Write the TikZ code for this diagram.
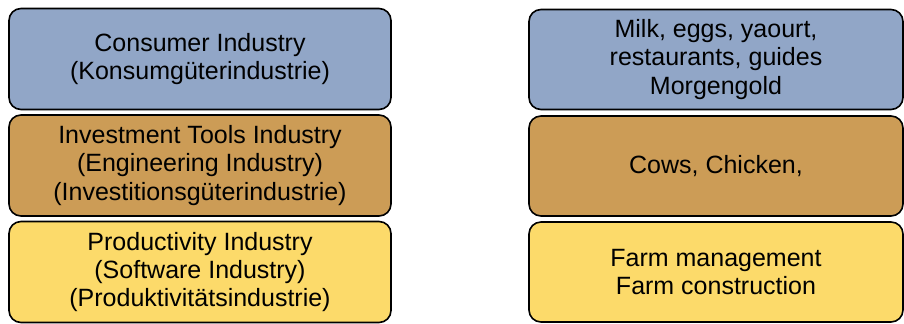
\documentclass[tikz,border=0pt]{standalone}
\usepackage{fontspec}
\setmainfont{Liberation Sans}
\definecolor{consblue}{RGB}{145,166,199}
\definecolor{investbrown}{RGB}{204,156,86}
\definecolor{prodyellow}{RGB}{252,218,106}
\tikzset{layer/.style={draw=black, line width=0.8pt, rounded corners=6pt, align=center,
    font=\fontsize{12.5pt}{14.2pt}\selectfont, inner sep=0pt}}
\tikzset{leftlayer/.style={layer, minimum width=191pt, minimum height=50.5pt}}
\tikzset{rightlayer/.style={layer, minimum width=187pt, minimum height=50pt}}

\begin{document}
\begin{tikzpicture}[x=0.5pt,y=-0.5pt]
    \useasboundingbox (0,0) rectangle (904,323);
    % industries
    \node (consumer) at (200,59) [leftlayer, fill=consblue] {Consumer Industry\\(Konsumgüterindustrie)};
    \node (invest) at (200,165.5) [leftlayer, fill=investbrown] {Investment Tools Industry\\(Engineering Industry)\\(Investitionsgüterindustrie)};
    \node (product) at (200,272) [leftlayer, fill=prodyellow] {Productivity Industry\\(Software Industry)\\(Produktivitätsindustrie)};
    % examples
    \node (food) at (716,59.5) [rightlayer, fill=consblue] {Milk, eggs, yaourt,\\restaurants, guides\\Morgengold};
    \node (animals) at (716,166) [rightlayer, fill=investbrown] {Cows, Chicken,};
    \node (farm) at (716,272) [rightlayer, fill=prodyellow] {Farm management\\Farm construction};
\end{tikzpicture}
\end{document}
